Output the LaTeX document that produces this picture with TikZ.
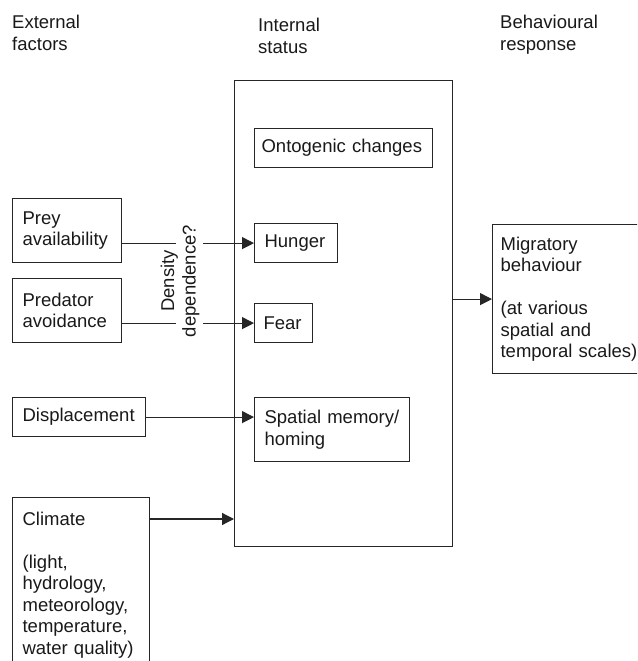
\documentclass[tikz,border=0pt]{standalone}
\usepackage{fontspec}
\setmainfont{Liberation Sans}
\usetikzlibrary{arrows.meta}

\begin{document}
\begin{tikzpicture}[x=1pt, y=-1pt,
    every node/.style={font=\fontsize{18.5}{21.5}\selectfont, text=black!90},
    box/.style={draw=black!85, line width=1.2pt, align=left, inner xsep=10pt, inner ysep=0pt, anchor=north west},
    link/.style={draw=black!85, line width=1.2pt},
    arr/.style={link, -{Triangle[length=12pt, width=12pt]}}]
  \useasboundingbox (0,0) rectangle (637,661);
  \clip (0,0) rectangle (637,661);
  % Draw the headings
  \node[anchor=north west, align=left, inner sep=0pt] (hext) at (12,15) {External\\factors};
  \node[anchor=north west, align=left, inner sep=0pt] (hint) at (258,18) {Internal\\status};
  \node[anchor=north west, align=left, inner sep=0pt] (hbeh) at (500,15) {Behavioural\\response};
  % Draw the internal status box
  \node[draw=black!85, line width=1.2pt, minimum width=218pt, minimum height=466pt, anchor=north west, inner sep=0pt] (inner) at (234,80) {};
  \node[box, text width=164pt, inner xsep=7pt, minimum height=39pt] (onto) at (254,128) {Ontogenic changes};
  \node[box, text width=63pt, minimum height=39pt] (hunger) at (254,223) {Hunger};
  \node[box, text width=40pt, inner xsep=9pt, minimum height=39pt] (fear) at (254,303) {Fear};
  \node[box, text width=135pt, minimum height=64pt] (spat) at (254,397) {Spatial memory/\\homing};
  % Draw the external factors
  \node[box, text width=89pt, minimum height=64pt] (prey) at (12,198) {Prey\\availability};
  \node[box, text width=89pt, minimum height=64pt] (pred) at (12,278) {Predator\\avoidance};
  \node[box, text width=113pt, minimum height=39pt] (disp) at (12,397) {Displacement};
  \node[box, text width=117pt, minimum height=175pt] (clim) at (12,497) {Climate\\[21.5pt](light,\\hydrology,\\meteorology,\\temperature,\\water quality)};
  % Draw the response
  \node[box, text width=144pt, inner xsep=8pt, minimum height=149pt] (migr) at (492,224) {Migratory\\behaviour\\[21.5pt](at various\\spatial and\\temporal scales)};
  % Density label and the gap it leaves
  \node[rotate=90, align=center, inner sep=0pt] (dens) at (180,281) {Density\\dependence?};
  \coordinate (gapl) at (176,281);
  \coordinate (gapr) at (203,281);
  % Draw the arrows
  \draw[link] (prey.east |- hunger.west) -- (gapl |- hunger.west);
  \draw[arr] (gapr |- hunger.west) -- (hunger.west);
  \draw[link] (pred.east |- fear.west) -- (gapl |- fear.west);
  \draw[arr] (gapr |- fear.west) -- (fear.west);
  \draw[arr] (disp.east) -- (disp.east -| spat.west);
  \draw[arr] ([yshift=-22pt]clim.north east) coordinate (cl) -- (cl -| inner.west);
  \draw[arr] (inner.east |- migr.west) -- (migr.west);
\end{tikzpicture}
\end{document}
